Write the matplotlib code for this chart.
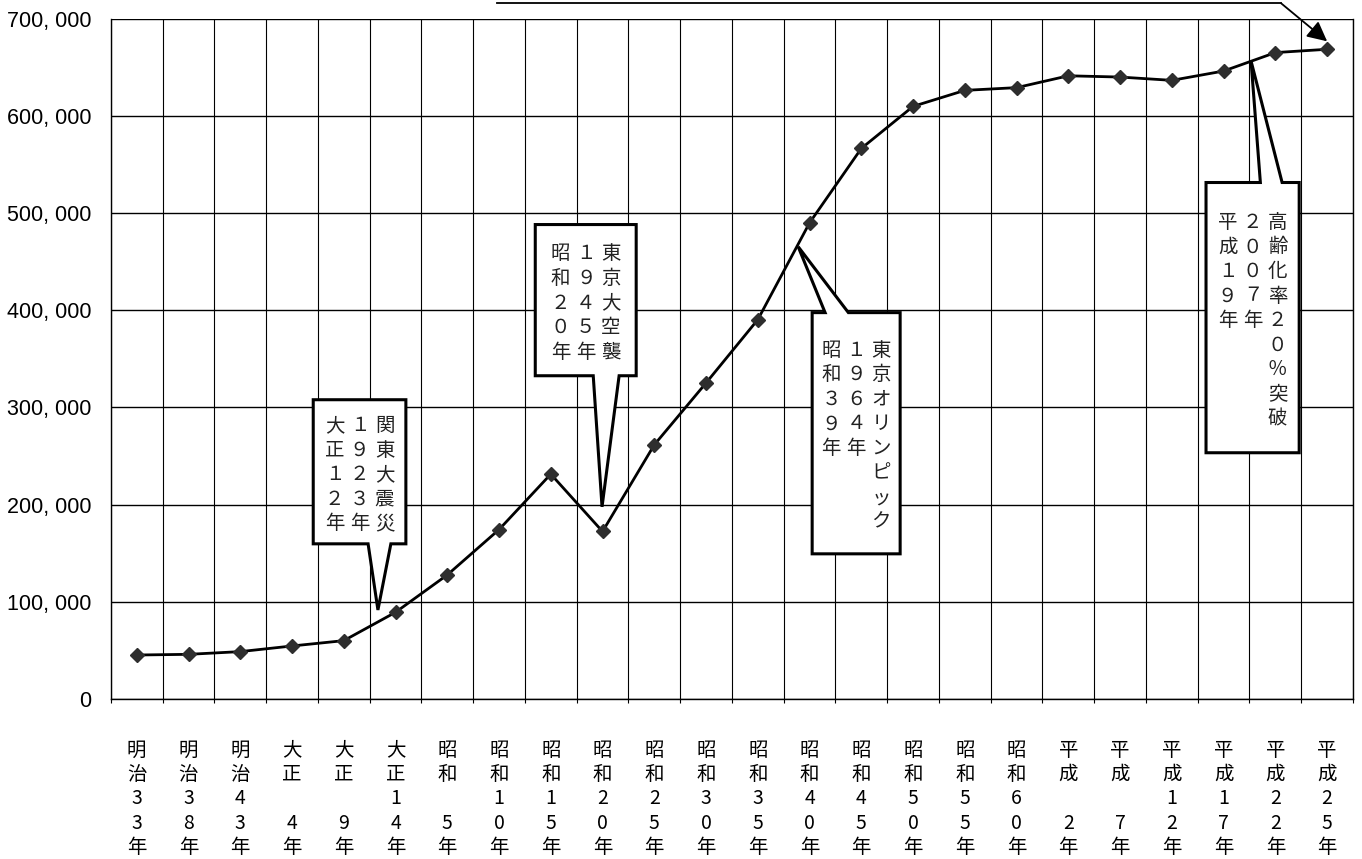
import matplotlib
matplotlib.use('Agg')
import matplotlib.pyplot as plt
import matplotlib.transforms as mtransforms
from matplotlib.patches import Polygon

# ---------------- data ----------------
eras = ['明治', '明治', '明治', '大正', '大正', '大正', '昭和', '昭和', '昭和', '昭和',
        '昭和', '昭和', '昭和', '昭和', '昭和', '昭和', '昭和', '昭和', '平成', '平成',
        '平成', '平成', '平成', '平成']
era_years = ['33', '38', '43', '4', '9', '14', '5', '10', '15', '20', '25', '30', '35',
             '40', '45', '50', '55', '60', '2', '7', '12', '17', '22', '25']
population = [45000, 45700, 48500, 54300, 59800, 89000, 127500, 174200, 231300, 172200,
              261500, 325200, 390400, 490100, 566700, 610000, 626500, 629300, 641500,
              640200, 636800, 646400, 665400, 668800]
y_ticks = [0, 100000, 200000, 300000, 400000, 500000, 600000, 700000]

# callouts: columns listed right-to-left (vertical writing)
callout_cols = [
    ['関東大震災', '１９２３年', '大正１２年'],
    ['東京大空襲', '１９４５年', '昭和２０年'],
    ['東京オリンピック', '１９６４年', '昭和３９年'],
    ['高齢化率２０％突破', '２００７年', '平成１９年'],
]
callout_box = [(3.41, 5.20, 159500, 307900), (7.70, 9.65, 332600, 488300),
               (13.05, 14.75, 149200, 397600), (20.66, 22.46, 253300, 531600)]
callout_base = [(4.47, 4.91), (8.82, 9.32), (13.30, 13.75), (21.71, 22.13)]
callout_tip = [(4.66, 91400), (8.99, 197600), (12.78, 465500), (21.53, 656700)]
callout_side = ['bottom', 'bottom', 'top', 'top']

arrow_path = [(6.96, 716200), (22.11, 716200), (23.0, 677000)]

# ---------------- figure ----------------
plt.rcParams['font.family'] = ['Noto Sans CJK JP', 'DejaVu Sans']
fig = plt.figure(figsize=(13.62, 8.59), dpi=100)
ax = fig.add_axes([0.0814, 0.1866, 0.9120, 0.7913])

n = len(population)
xs = list(range(n))
ax.set_xlim(-0.5, n - 0.5)
ax.set_ylim(0, 700000)

# grid
ax.set_yticks(y_ticks)
ax.set_yticklabels([f'{v:,}'.replace(',', ', ') for v in y_ticks],
                   fontfamily='Liberation Sans', fontsize=15.5)
ax.tick_params(axis='y', length=0, pad=14)
ax.set_xticks(xs)
ax.set_xticklabels([])
ax.set_xticks([i - 0.5 for i in range(n + 1)], minor=True)
ax.tick_params(axis='x', which='major', length=0)
ax.tick_params(axis='x', which='minor', length=3, width=0.8, direction='out')
ax.grid(True, axis='y', which='major', color='black', lw=1.0)
ax.grid(True, axis='x', which='minor', color='black', lw=0.8)
for s in ax.spines.values():
    s.set_color('black')
    s.set_linewidth(1.0)
ax.spines['top'].set_visible(False)

# data line
ax.plot(xs, population, color='black', lw=2.0, marker='D', ms=7.5,
        mfc='#2e2e2e', mec='#2e2e2e', zorder=5, clip_on=False)

# x labels: vertical stacked characters
blend = mtransforms.blended_transform_factory(ax.transData, ax.transAxes)
row0, rstep = -51.5, 24.3
for i in range(n):
    yr = era_years[i]
    rows = [eras[i][0], eras[i][1],
            yr[0] if len(yr) == 2 else '', yr[-1], '年']
    for r, ch in enumerate(rows):
        if ch:
            ax.annotate(ch, xy=(i, 0), xycoords=blend,
                        xytext=(0, row0 - r * rstep), textcoords='offset pixels',
                        ha='center', va='center', fontsize=14, color='black',
                        annotation_clip=False)

# callouts
cstep, vstep = 25.0, 24.6
for cols, box, base, tip, side in zip(callout_cols, callout_box, callout_base,
                                      callout_tip, callout_side):
    x0, x1, yb, yt = box
    if side == 'bottom':
        verts = [(x0, yt), (x1, yt), (x1, yb), (base[1], yb), tip,
                 (base[0], yb), (x0, yb)]
    else:
        verts = [(x0, yt), (base[0], yt), tip, (base[1], yt), (x1, yt),
                 (x1, yb), (x0, yb)]
    poly = Polygon(verts, closed=True, facecolor='white', edgecolor='black',
                   lw=2.2, joinstyle='miter', zorder=4, clip_on=False)
    ax.add_patch(poly)
    cx, cy = (x0 + x1) / 2, (yb + yt) / 2
    nc = len(cols)
    nr = max(len(c) for c in cols)
    for j, col in enumerate(cols):
        dx = (nc - 1) / 2 * cstep - j * cstep
        for r, ch in enumerate(col):
            dy = (nr - 1) / 2 * vstep - r * vstep - 3
            ax.annotate(ch, xy=(cx, cy), xycoords='data',
                        xytext=(dx, dy), textcoords='offset pixels',
                        ha='center', va='center', fontsize=14, color='#222222',
                        zorder=6, annotation_clip=False)

# top arrow
ax.plot([p[0] for p in arrow_path[:2]], [p[1] for p in arrow_path[:2]],
        color='black', lw=1.3, clip_on=False, zorder=6)
ax.annotate('', xy=arrow_path[2], xytext=arrow_path[1],
            arrowprops=dict(arrowstyle='-|>', color='black', lw=1.3,
                            mutation_scale=30, shrinkA=0, shrinkB=0),
            annotation_clip=False, zorder=6)

fig.savefig('out.png', dpi=100)
